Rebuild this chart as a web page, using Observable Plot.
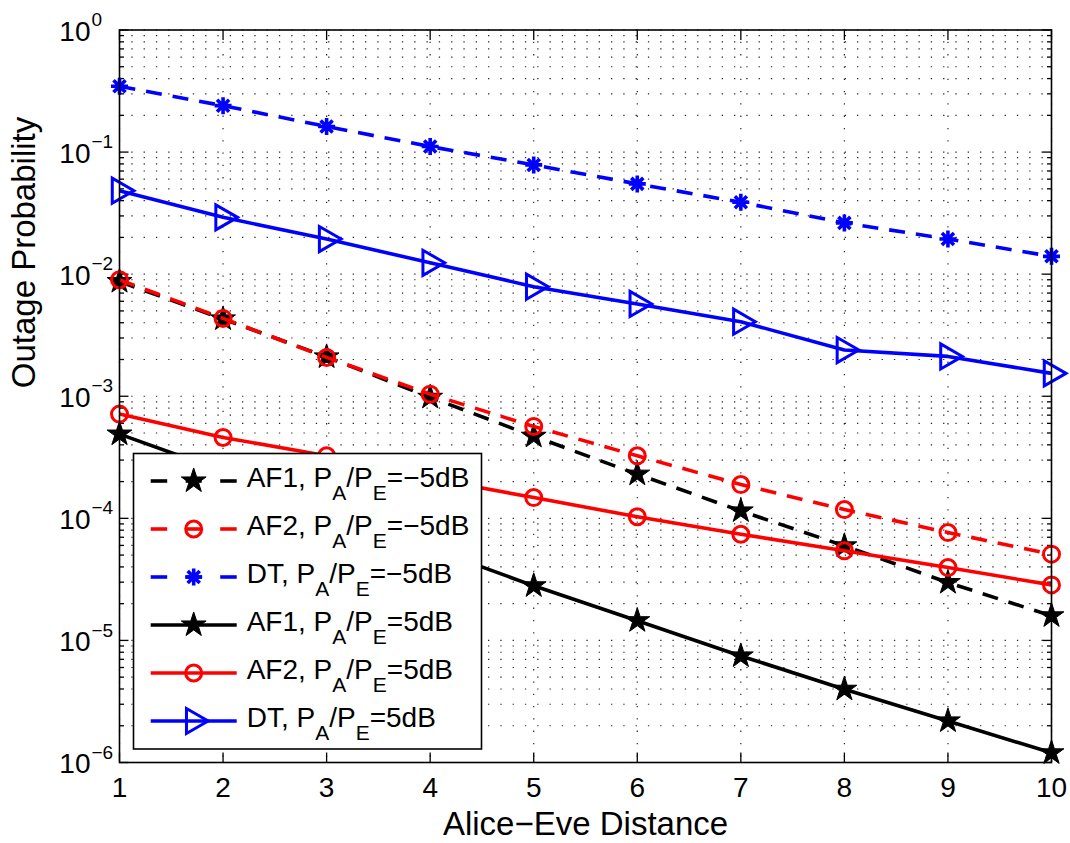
<!DOCTYPE html>
<html>
<head>
<meta charset="utf-8">
<script src="https://cdn.jsdelivr.net/npm/d3@7"></script>
<script src="https://cdn.jsdelivr.net/npm/@observablehq/plot@0.6"></script>
<style>
  body { margin: 0; background: #fff; }
  #wrap { position: relative; width: 1070px; height: 843px; }
</style>
</head>
<body>
<div id="wrap"></div>
<script>
// ---------- data ----------
const distance = [1, 2, 3, 4, 5, 6, 7, 8, 9, 10];
const af1Minus5 = [0.0087, 0.0043, 0.0021, 0.00098, 0.00047, 0.00023, 0.000115, 0.0000595, 0.0000298, 0.0000159];
const af2Minus5 = [0.0090, 0.00434, 0.00208, 0.00104, 0.000566, 0.000325, 0.000189, 0.000118, 0.0000765, 0.0000509];
const dtMinus5  = [0.346, 0.240, 0.162, 0.111, 0.0785, 0.0549, 0.0388, 0.0263, 0.0194, 0.0140];
const af1Plus5  = [0.00049, 0.000243, 0.000117, 0.000057, 0.000028, 0.0000145, 0.00000746, 0.00000398, 0.00000219, 0.0000012];
const af2Plus5  = [0.000714, 0.00046, 0.000325, 0.000212, 0.000148, 0.000103, 0.0000741, 0.0000542, 0.0000395, 0.0000285];
const dtPlus5   = [0.0483, 0.0292, 0.0194, 0.0124, 0.0079, 0.0057, 0.00408, 0.00239, 0.00212, 0.00154];

const seriesNames = ["AF1", "AF2", "DT", "AF1", "AF2", "DT"];
const seriesRatios = ["−5dB", "−5dB", "−5dB", "5dB", "5dB", "5dB"];

const xTicks = [1, 2, 3, 4, 5, 6, 7, 8, 9, 10];
const yTicks = [1, 0.1, 0.01, 0.001, 0.0001, 0.00001, 0.000001];
const yTickBase = ["10", "10", "10", "10", "10", "10", "10"];
const yTickExponents = ["0", "−1", "−2", "−3", "−4", "−5", "−6"];
const xLabel = "Alice−Eve Distance";
const yLabel = "Outage Probability";

// ---------- styles ----------
const FONT = "'Liberation Sans', Arial, Helvetica, sans-serif";
const BLACK = "#000000", RED = "#ff0000", BLUE = "#0000ff";
const DASH = "16,11";

// 8-spoke asterisk like MATLAB '*'
const asterisk8 = {
  draw(ctx, size) {
    const r = Math.sqrt(size / Math.PI);
    const d = r * Math.SQRT1_2;
    ctx.moveTo(-r, 0); ctx.lineTo(r, 0);
    ctx.moveTo(0, -r); ctx.lineTo(0, r);
    ctx.moveTo(-d, -d); ctx.lineTo(d, d);
    ctx.moveTo(-d, d); ctx.lineTo(d, -d);
  }
};

const markerStyles = {
  star:     {symbol: "star", r: 7.8, fill: c => c, stroke: c => c, strokeWidth: 1, rotate: 0},
  circle:   {symbol: "circle", r: 8, fill: () => "none", stroke: c => c, strokeWidth: 3, rotate: 0},
  asterisk: {symbol: asterisk8, r: 8.5, fill: () => "none", stroke: c => c, strokeWidth: 3.6, rotate: 0},
  triangle: {symbol: "triangle", r: 9.3, fill: () => "none", stroke: c => c, strokeWidth: 3, rotate: 90}
};

const series = [
  {values: af1Minus5, color: BLACK, dash: DASH, marker: "star"},
  {values: af2Minus5, color: RED,   dash: DASH, marker: "circle"},
  {values: dtMinus5,  color: BLUE,  dash: DASH, marker: "asterisk"},
  {values: af1Plus5,  color: BLACK, dash: null, marker: "star"},
  {values: af2Plus5,  color: RED,   dash: null, marker: "circle"},
  {values: dtPlus5,   color: BLUE,  dash: null, marker: "triangle"}
];

// minor log ticks (2..9 in each decade)
const yMinor = [];
for (let e = -6; e < 0; e++) for (let m = 2; m <= 9; m++) yMinor.push(m * Math.pow(10, e));
const yAllGrid = yTicks.concat(yMinor);

const seriesMarks = series.flatMap(s => {
  const rows = distance.map((d, i) => ({x: d, y: s.values[i]}));
  const m = markerStyles[s.marker];
  return [
    Plot.line(rows, {x: "x", y: "y", stroke: s.color, strokeWidth: 3.6,
      strokeDasharray: s.dash || undefined, strokeLinejoin: "round", strokeLinecap: "butt"}),
    Plot.dot(rows, {x: "x", y: "y", symbol: m.symbol, r: m.r, fill: m.fill(s.color),
      stroke: m.stroke(s.color), strokeWidth: m.strokeWidth, rotate: m.rotate})
  ];
});

const yLabelRows = yTicks.map((v, i) => ({v, base: yTickBase[i], exp: yTickExponents[i]}));
const gridStyle = {stroke: "#000", strokeOpacity: 0.85, strokeWidth: 1.2, strokeDasharray: "1.3,11"};

const chart = Plot.plot({
  width: 1070,
  height: 843,
  marginLeft: 119,
  marginRight: 19,
  marginTop: 29.5,
  marginBottom: 81,
  x: {domain: [1, 10]},
  y: {type: "log", domain: [1e-6, 1]},
  style: {fontFamily: FONT, background: "white", color: "black", overflow: "visible"},
  marks: [
    Plot.gridY(yAllGrid, gridStyle),
    Plot.gridX(xTicks, gridStyle),
    // inward ticks
    Plot.axisX({anchor: "bottom", ticks: xTicks, tickSize: -9.5, tickFormat: () => "", label: null, strokeWidth: 1.3}),
    Plot.axisX({anchor: "top", ticks: xTicks, tickSize: -9.5, tickFormat: () => "", label: null, strokeWidth: 1.3}),
    Plot.axisY({anchor: "left", ticks: yTicks, tickSize: -9.5, tickFormat: () => "", label: null, strokeWidth: 1.3}),
    Plot.axisY({anchor: "right", ticks: yTicks, tickSize: -9.5, tickFormat: () => "", label: null, strokeWidth: 1.3}),
    Plot.axisY({anchor: "left", ticks: yMinor, tickSize: -5, tickFormat: () => "", label: null, strokeWidth: 1.3}),
    Plot.axisY({anchor: "right", ticks: yMinor, tickSize: -5, tickFormat: () => "", label: null, strokeWidth: 1.3}),
    ...seriesMarks,
    Plot.frame({stroke: "black", strokeWidth: 1.6}),
    // tick labels
    Plot.text(xTicks, {x: d => d, text: d => String(d), frameAnchor: "bottom", dy: 26, fontSize: 28, lineAnchor: "middle", fill: "black"}),
    Plot.text(yLabelRows, {y: "v", text: "base", frameAnchor: "left", textAnchor: "end", dx: -29, dy: 2, fontSize: 28, lineAnchor: "middle", fill: "black"}),
    Plot.text(yLabelRows, {y: "v", text: "exp", frameAnchor: "left", textAnchor: "start", dx: -28, dy: -10, fontSize: 19, lineAnchor: "middle", fill: "black"}),
    // axis titles
    Plot.text([xLabel], {frameAnchor: "bottom", dy: 62, fontSize: 33, lineAnchor: "middle", fill: "black"}),
    Plot.text([yLabel], {frameAnchor: "left", dx: -95, dy: -8, rotate: -90, fontSize: 33, lineAnchor: "middle", fill: "black"})
  ]
});

const wrap = document.getElementById("wrap");
wrap.appendChild(chart);

// ---------- legend overlay ----------
const lg = d3.select(wrap).append("svg")
  .attr("width", 1070).attr("height", 843)
  .style("position", "absolute").style("left", "0px").style("top", "0px")
  .style("pointer-events", "none");

const box = {x: 133.5, y: 453.5, w: 348, h: 295.5};
lg.append("rect").attr("x", box.x).attr("y", box.y).attr("width", box.w).attr("height", box.h)
  .attr("fill", "white").attr("stroke", "black").attr("stroke-width", 1.6);

const lineX0 = 150.7, lineX1 = 236.7, markX = 193.7, textX = 246.7;
series.forEach((s, i) => {
  const cy = 481 + 48 * i;
  if (s.dash) {
    [[lineX0, lineX0 + 16.5], [markX - 8, markX + 8], [lineX1 - 16.5, lineX1]].forEach(([a, b]) => {
      lg.append("line").attr("x1", a).attr("x2", b).attr("y1", cy).attr("y2", cy)
        .attr("stroke", s.color).attr("stroke-width", 3.6);
    });
  } else {
    lg.append("line").attr("x1", lineX0).attr("x2", lineX1).attr("y1", cy).attr("y2", cy)
      .attr("stroke", s.color).attr("stroke-width", 3.6);
  }
  const m = markerStyles[s.marker];
  const type = typeof m.symbol === "string"
    ? {star: d3.symbolStar, circle: d3.symbolCircle, triangle: d3.symbolTriangle}[m.symbol]
    : m.symbol;
  lg.append("path")
    .attr("d", d3.symbol(type, Math.PI * m.r * m.r)())
    .attr("transform", `translate(${markX},${cy}) rotate(${m.rotate})`)
    .attr("fill", m.fill(s.color)).attr("stroke", m.stroke(s.color)).attr("stroke-width", m.strokeWidth);

  const t = lg.append("text").attr("x", textX).attr("y", cy + 6)
    .attr("font-family", FONT).attr("font-size", 28).attr("fill", "black");
  t.append("tspan").text(`${seriesNames[i]}, P`);
  t.append("tspan").attr("font-size", 21).attr("dy", 13).text("A");
  t.append("tspan").attr("dy", -13).text("/P");
  t.append("tspan").attr("font-size", 21).attr("dy", 13).text("E");
  t.append("tspan").attr("dy", -13).text(`=${seriesRatios[i]}`);
});
</script>
</body>
</html>
